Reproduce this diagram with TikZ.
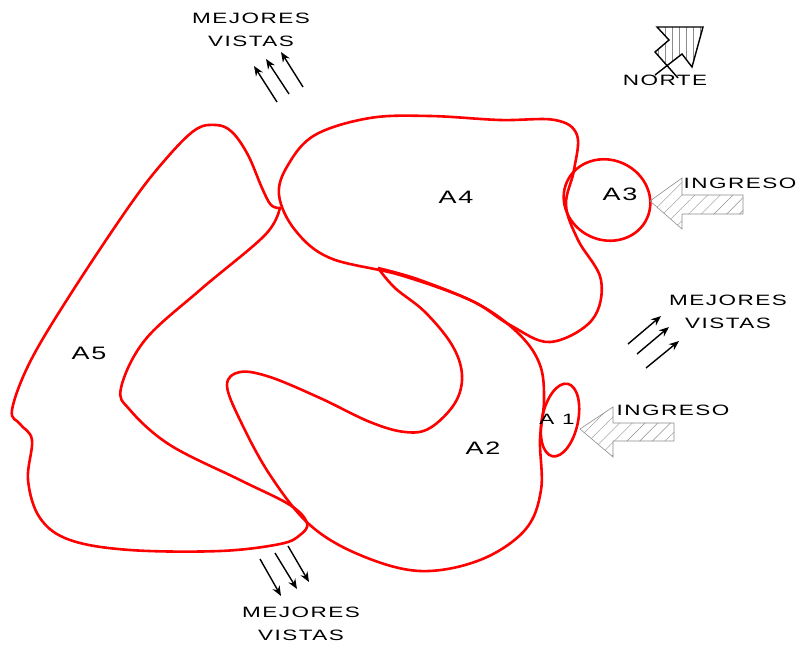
\documentclass[tikz,border=0pt]{standalone}
\usepackage{fontspec}
\setmainfont{Liberation Sans}[FakeStretch=1.5,LetterSpace=10]
\usepackage{tikz}
\usetikzlibrary{arrows.meta, patterns.meta}
\tikzset{
  zone/.style={draw=red, line width=2.6pt, line join=round},
  view/.style={-{Stealth[length=10pt,width=8pt]}, line width=1.4pt},
  entry/.style={draw=black!45, line width=.6pt, pattern={Lines[angle=45,distance=9pt,line width=.4pt]}, pattern color=black!45},
  lbl/.style={font=\fontsize{15}{23}\selectfont, inner sep=0pt, align=center},
  arealbl/.style={font=\fontsize{18}{20}\selectfont, inner sep=0pt}
}
\begin{document}
\begin{tikzpicture}[x=1pt, y=-1pt]
      \useasboundingbox (0,0) rectangle (797,648);
      % Zones
      \draw[zone] plot[smooth, tension=0.6] coordinates {(280,208) (271,205) (262,188) (248,155) (232,132) (216,125) (195,130) (165,160) (130,205) (70,295) (30,362) (12,410) (20,424) (32,440) (28,480) (40,518) (70,540) (130,550) (220,551) (280,544) (300,535) (307,523) (290,505) (240,480) (170,445) (130,410) (121,388) (145,340) (200,290) (265,235) (280,207)};
      \draw[zone] plot[smooth cycle, tension=0.6] coordinates {(279,195) (288,165) (315,135) (370,118) (430,116) (500,120) (555,120) (577,135) (574,170) (566,205) (578,240) (601,280) (592,320) (550,342) (510,325) (470,300) (400,275) (330,258) (295,230)};
      \draw[zone] plot[smooth, tension=0.6] coordinates {(378,268) (420,280) (480,305) (520,335) (540,365) (544,400) (540,440) (541,490) (525,530) (480,560) (420,571) (360,555) (310,525) (270,475) (240,420) (227,385) (240,372) (270,377) (320,398) (370,422) (405,432) (430,428) (455,403) (462,375) (452,345) (425,312) (395,288) (378,268)};
      \draw[zone, rotate around={-25:(607,200)}] (607,200) ellipse [x radius=44, y radius=40];
      \draw[zone, rotate around={-12:(560,420)}] (560,420) ellipse [x radius=18, y radius=37];
      % Area names
      \node[lbl] (a1) at (557,419) {A 1};
      \node[arealbl] (a2) at (483,448) {A2};
      \node[arealbl] (a3) at (620,194) {A3};
      \node[arealbl] (a4) at (456,197) {A4};
      \node[arealbl] (a5) at (89,353) {A5};
      % Best views
      \node[lbl] (topviews) at (251,30) {MEJORES\\VISTAS};
      \node[lbl] (rightviews) at (728,312) {MEJORES\\VISTAS};
      \node[lbl] (lowviews) at (301,624) {MEJORES\\VISTAS};
      \draw[view] (277,102) -- (254,66);
      \draw[view] (289,94) -- (266,59);
      \draw[view] (303,87) -- (281,52);
      \draw[view] (628,344) -- (661,316);
      \draw[view] (637,354) -- (669,327);
      \draw[view] (646,368) -- (679,341);
      \draw[view] (260,559) -- (281,596);
      \draw[view] (275,553) -- (297,589);
      \draw[view] (288,546) -- (309,582);
      % Entrances
      \node[lbl] (entrytop) at (740,183) {INGRESO};
      \node[lbl] (entrylow) at (673,410) {INGRESO};
      \draw[entry] (650,201) -- (682,178) -- (682,195) -- (743,195) -- (743,214) -- (682,214) -- (682,229) -- cycle;
      \draw[entry] (580,429) -- (613,407) -- (613,423) -- (674,423) -- (674,441) -- (613,441) -- (613,457) -- cycle;
      % North mark
      \path[pattern={Lines[angle=90,distance=7pt,line width=.4pt]}, pattern color=black!45] (657,27) -- (703,27) -- (692,67) -- (682,54) -- (667,65) -- (655,52) -- (669,40) -- cycle;
      \draw[line width=1.4pt] (678,78) -- (655,52) -- (669,40) -- (657,27) -- (703,27) -- (692,67) -- (682,54) -- (655,75);
      \node[lbl] (north) at (665,80) {NORTE};
    \end{tikzpicture}
\end{document}
